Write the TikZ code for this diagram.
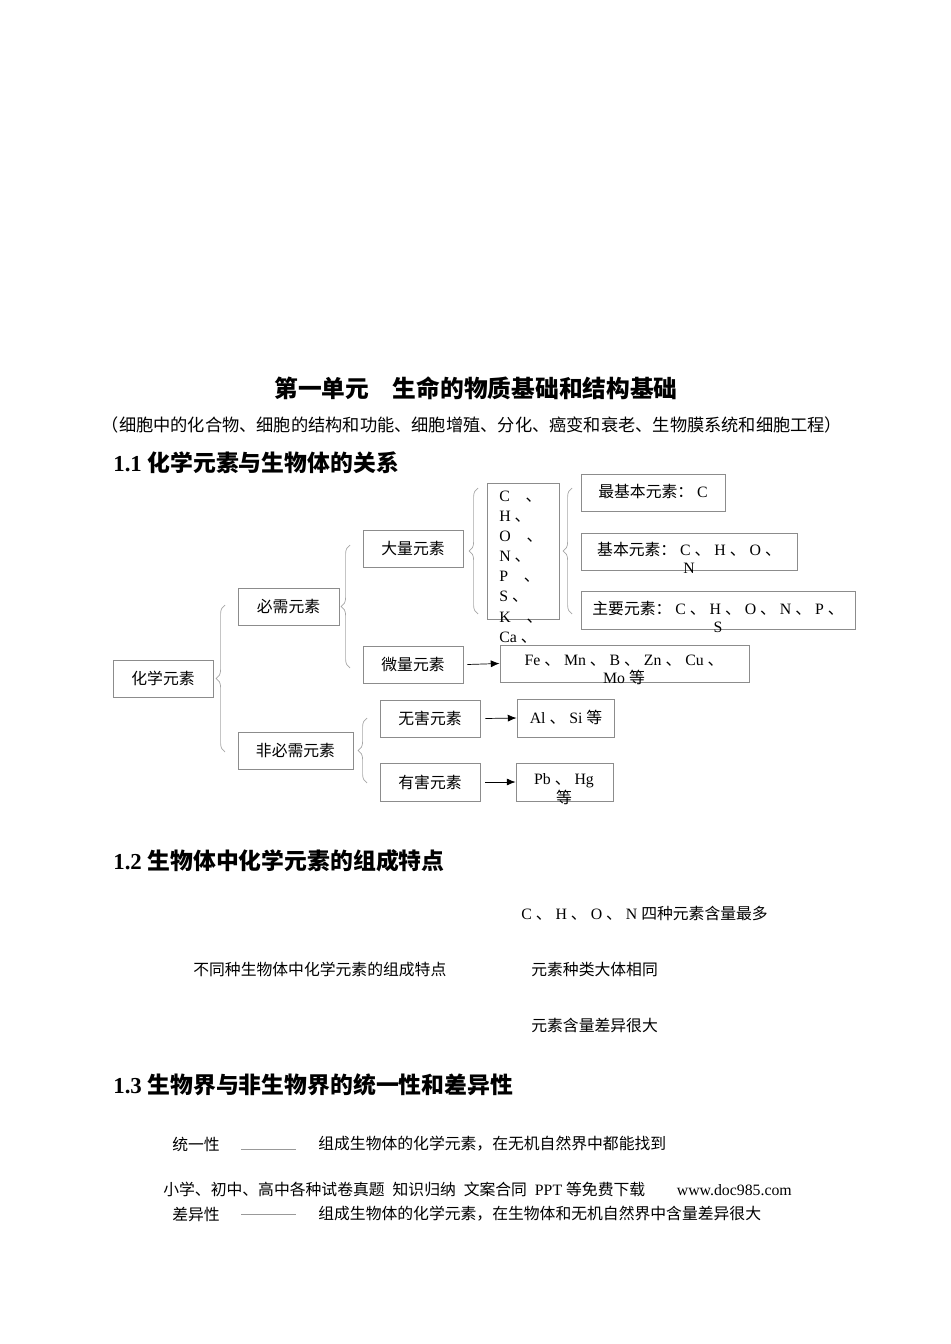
\documentclass[tikz,border=0pt]{standalone}
\usepackage{fontspec}
\setmainfont{Liberation Serif}
\newfontfamily\zh{Noto Sans CJK SC}
\usetikzlibrary{decorations.pathreplacing,arrows.meta}
% CJK characters in Noto, the rest in serif
\newcount\cjkc
\cjkc="3000 \loop \XeTeXcharclass\cjkc=1 \advance\cjkc 1 \ifnum\cjkc<"3040 \repeat
\cjkc="4E00 \loop \XeTeXcharclass\cjkc=1 \advance\cjkc 1 \ifnum\cjkc<"A000 \repeat
\cjkc="FF00 \loop \XeTeXcharclass\cjkc=1 \advance\cjkc 1 \ifnum\cjkc<"FFF0 \repeat
\XeTeXinterchartokenstate=1
\XeTeXinterchartoks 0 1 = {\zh}
\XeTeXinterchartoks 4095 1 = {\zh}
\XeTeXinterchartoks 1 0 = {\rmfamily}
\XeTeXinterchartoks 1 4095 = {\rmfamily}
\tikzset{
  box/.style = {draw=black!45, line width=0.5pt, inner sep=0pt},
  txt/.style = {font=\fontsize{9}{10.5}\selectfont, inner sep=0pt},
  head/.style = {font=\fontsize{13}{15}\selectfont\bfseries, inner sep=0pt, anchor=west},
  brc/.style = {draw=black!35, decorate, decoration={brace,amplitude=5pt}},
  arr/.style = {-{Latex[length=5pt,width=4pt]}, line width=0.4pt}
}
\newcommand{\boxat}[5]{\node[box, minimum width={(#4-#2)*0.02cm}, minimum height={(#5-#3)*0.02cm}] (#1) at ({(#2+#4)/2},{(#3+#5)/2}) {};}

\begin{document}
\begin{tikzpicture}[x=0.02cm,y=-0.02cm]
  \useasboundingbox (0,0) rectangle (950,1344);
  % titles
  \node[font=\fontsize{13.5}{15}\selectfont\bfseries, inner sep=0pt] (title) at (476,388) {第一单元\quad 生命的物质基础和结构基础};
  \node[txt, font=\fontsize{9.8}{11}\selectfont] (sub) at (472,425) {（细胞中的化合物、细胞的结构和功能、细胞增殖、分化、癌变和衰老、生物膜系统和细胞工程）};
  \node[head] (h1) at (113,463) {1.1 化学元素与生物体的关系};
  % boxes
  \boxat{root}{113}{660}{213}{697}
  \boxat{need}{238}{588}{339}{625}
  \boxat{noneed}{238}{732}{353}{769}
  \boxat{big}{363}{530}{463}{567}
  \boxat{small}{363}{646}{463}{683}
  \boxat{chon}{487}{483}{559}{619}
  \boxat{most}{581}{474}{725}{511}
  \boxat{basic}{581}{533}{797}{570}
  \boxat{main}{581}{591}{855}{629}
  \boxat{trace}{500}{645}{749}{682}
  \boxat{safe}{380}{700}{480}{737}
  \boxat{harm}{380}{763}{480}{801}
  \boxat{alsi}{517}{699}{614}{737}
  \boxat{pbhg}{516}{763}{613}{801}
  % texts
  \node[txt] (troot) at (root) {化学元素};
  \node[txt] (tneed) at (need) {必需元素};
  \node[txt] (tnoneed) at (noneed) {非必需元素};
  \node[txt] (tbig) at (big) {大量元素};
  \node[txt] (tsmall) at (small) {微量元素};
  \node[txt] (tsafe) at (safe) {无害元素};
  \node[txt] (tharm) at (harm) {有害元素};
  \node[txt, anchor=north west, align=left, font=\fontsize{9}{11.4}\selectfont] (tchon) at (499,491)
    {C\quad 、\\H 、\\O\quad 、\\N 、\\P\quad 、\\S 、\\K\quad 、\\Ca 、};
  \node[txt] (tmost) at (653,491) {最基本元素： C};
  \node[txt, align=center] (tbasic) at (689,558) {基本元素： C 、 H 、 O 、\\N};
  \node[txt, align=center] (tmain) at (718,617) {主要元素： C 、 H 、 O 、 N 、 P 、\\S};
  \node[txt, align=center] (ttrace) at (624,670) {Fe 、 Mn 、 B 、 Zn 、 Cu 、\\Mo 等};
  \node[txt] (talsi) at (566,717) {Al 、 Si 等};
  \node[txt, align=center] (tpbhg) at (564,789) {Pb 、 Hg\\等};
  % braces
  \draw[brc] (225,752) -- (225,605);
  \draw[brc] (350,668) -- (350,545);
  \draw[brc] (478,614) -- (478,488);
  \draw[brc] (572,614) -- (572,488);
  \draw[brc] (367,783) -- (367,718);
  % arrows
  \draw[arr] (small.east) ++(4,0) -- (trace.west);
  \draw[arr] (safe.east) ++(5,0) -- (alsi.west);
  \draw[arr] (harm.east) ++(5,0) -- (pbhg.west);
  % 1.2
  \node[head] (h2) at (113,861) {1.2 生物体中化学元素的组成特点};
  \node[txt, anchor=west] (most4) at (521,913) {C 、 H 、 O 、 N 四种元素含量最多};
  \node[txt, anchor=west] (feat) at (193,969) {不同种生物体中化学元素的组成特点};
  \node[txt, anchor=west] (same) at (531,969) {元素种类大体相同};
  \node[txt, anchor=west] (diff) at (531,1025) {元素含量差异很大};
  % 1.3
  \node[head] (h3) at (113,1085) {1.3 生物界与非生物界的统一性和差异性};
  \node[txt, anchor=west] (unity) at (172,1144) {统一性};
  \node[txt, anchor=west] (unityt) at (318,1144) {组成生物体的化学元素，在无机自然界中都能找到};
  \node[txt, anchor=west] (ad) at (163,1189) {小学、初中、高中各种试卷真题\ \ 知识归纳\ \ 文案合同\ \ PPT 等免费下载\qquad www.doc985.com};
  \node[txt, anchor=west] (var) at (172,1214) {差异性};
  \node[txt, anchor=west] (vart) at (318,1214) {组成生物体的化学元素，在生物体和无机自然界中含量差异很大};
  \draw[black!40, line width=0.4pt] (241,1149) -- (296,1149) (241,1214) -- (296,1214);
\end{tikzpicture}
\end{document}
